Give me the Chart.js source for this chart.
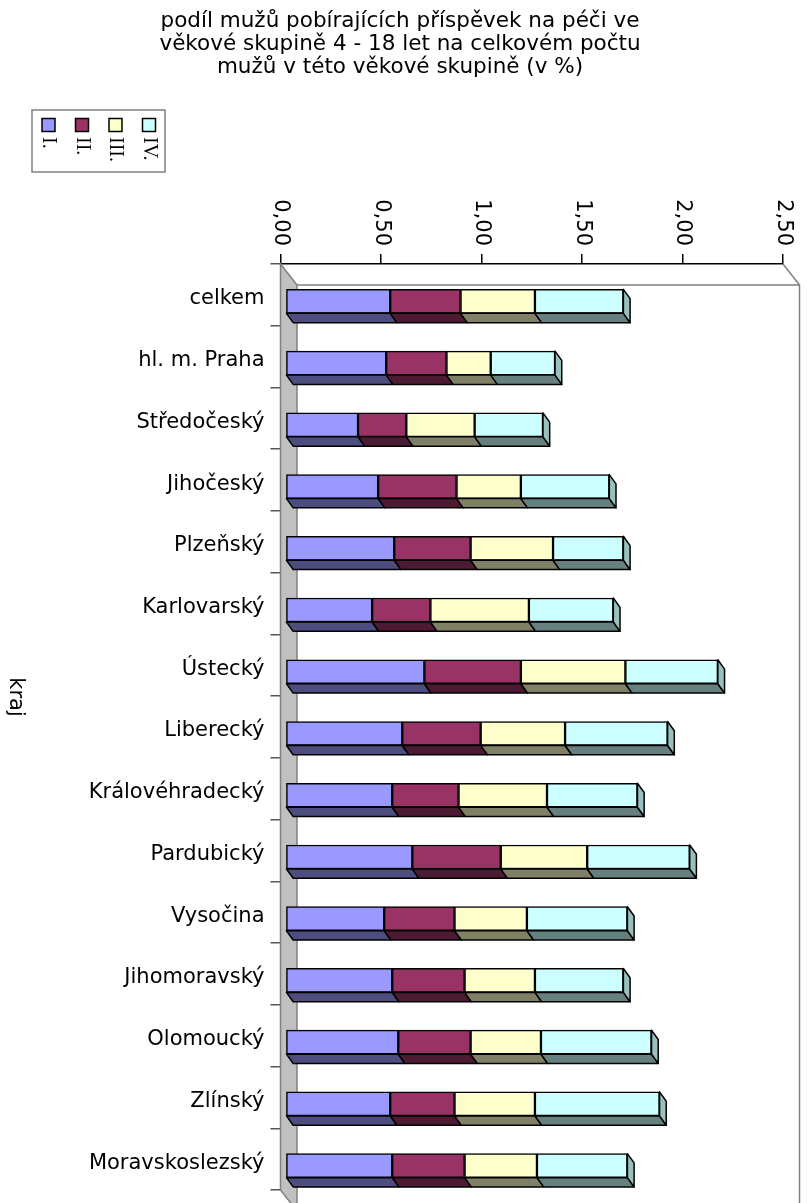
<!DOCTYPE html>
<html lang="cs">
<head>
<meta charset="utf-8">
<title>podíl mužů pobírajících příspěvek na péči</title>
<script src="https://cdn.jsdelivr.net/npm/chart.js@4.4.1/dist/chart.umd.min.js"></script>
<style>
  html, body { margin: 0; padding: 0; background: #fff; overflow: hidden; }
  canvas { display: block; }
</style>
</head>
<body>
<canvas id="chart" width="807" height="1203"></canvas>
<script>
// Kraje a podíly (v %) po stupních I. - IV.
const categories = [
  "celkem", "hl. m. Praha", "Středočeský", "Jihočeský", "Plzeňský",
  "Karlovarský", "Ústecký", "Liberecký", "Královéhradecký", "Pardubický",
  "Vysočina", "Jihomoravský", "Olomoucký", "Zlínský", "Moravskoslezský"
];
const seriesI   = [0.52, 0.50, 0.36, 0.46, 0.54, 0.43, 0.69, 0.58, 0.53, 0.63, 0.49, 0.53, 0.56, 0.52, 0.53];
const seriesII  = [0.35, 0.30, 0.24, 0.39, 0.38, 0.29, 0.48, 0.39, 0.33, 0.44, 0.35, 0.36, 0.36, 0.32, 0.36];
const seriesIII = [0.37, 0.22, 0.34, 0.32, 0.41, 0.49, 0.52, 0.42, 0.44, 0.43, 0.36, 0.35, 0.35, 0.40, 0.36];
const seriesIV  = [0.44, 0.32, 0.34, 0.44, 0.35, 0.42, 0.46, 0.51, 0.45, 0.51, 0.50, 0.44, 0.55, 0.62, 0.45];
const seriesNames = ["I.", "II.", "III.", "IV."];

const titleLines = [
  "podíl mužů pobírajících příspěvek na péči ve",
  "věkové skupině 4 - 18 let na celkovém počtu",
  "mužů v této věkové skupině (v %)"
];
const axisTitle = "kraj";

const frontColors = ["#9999FF", "#993366", "#FFFFCC", "#CCFFFF"];
const floorColors = ["#4D4D80", "#4D1A33", "#808066", "#668080"];
const sideColors  = ["#7373BF", "#73264D", "#BFBF99", "#99BFBF"];

// 3D look: plot depth, bar offset from the front plane and bar depth
const WALL_DX = 16.5, WALL_DY = 21;
const BAR_DX = 5.2, BAR_DY = 6.5;
const FACE_DX = 6.7, FACE_DY = 9.3;

const sansFamily = "'DejaVu Sans', Verdana, sans-serif";

const frame3d = {
  id: "frame3d",
  beforeDatasetsDraw(chart) {
    const { ctx, chartArea: a } = chart;
    ctx.save();
    ctx.lineWidth = 1.5;
    ctx.strokeStyle = "#808080";
    // grey side wall
    ctx.fillStyle = "#C0C0C0";
    ctx.beginPath();
    ctx.moveTo(a.left, a.top);
    ctx.lineTo(a.left + WALL_DX, a.top + WALL_DY);
    ctx.lineTo(a.left + WALL_DX, a.bottom + WALL_DY);
    ctx.lineTo(a.left, a.bottom);
    ctx.closePath();
    ctx.fill();
    ctx.stroke();
    // back plane edges
    ctx.beginPath();
    ctx.moveTo(a.left + WALL_DX, a.top + WALL_DY);
    ctx.lineTo(a.right + WALL_DX, a.top + WALL_DY);
    ctx.lineTo(a.right + WALL_DX, a.bottom + WALL_DY);
    ctx.moveTo(a.right, a.top);
    ctx.lineTo(a.right + WALL_DX, a.top + WALL_DY);
    ctx.stroke();
    ctx.restore();

    // bars sit a little behind the front plane
    ctx.save();
    ctx.translate(BAR_DX, BAR_DY);
  },
  afterDatasetsDraw(chart) {
    const ctx = chart.ctx;
    const last = chart.data.datasets.length - 1;
    ctx.lineWidth = 1.5;
    ctx.strokeStyle = "#000";
    ctx.lineJoin = "round";
    chart.data.datasets.forEach((ds, di) => {
      chart.getDatasetMeta(di).data.forEach(bar => {
        const { x, y, base, height } = bar.getProps(["x", "y", "base", "height"], true);
        const top = y - height / 2, bot = y + height / 2;
        // underside
        ctx.beginPath();
        ctx.moveTo(base, bot);
        ctx.lineTo(x, bot);
        ctx.lineTo(x + FACE_DX, bot + FACE_DY);
        ctx.lineTo(base + FACE_DX, bot + FACE_DY);
        ctx.closePath();
        ctx.fillStyle = floorColors[di];
        ctx.fill();
        ctx.stroke();
        // end cap on the last segment
        if (di === last) {
          ctx.beginPath();
          ctx.moveTo(x, top);
          ctx.lineTo(x + FACE_DX, top + FACE_DY);
          ctx.lineTo(x + FACE_DX, bot + FACE_DY);
          ctx.lineTo(x, bot);
          ctx.closePath();
          ctx.fillStyle = sideColors[di];
          ctx.fill();
          ctx.stroke();
        }
      });
    });
    ctx.restore();
  }
};

const texts = {
  id: "texts",
  afterDraw(chart) {
    const ctx = chart.ctx;
    ctx.save();
    ctx.fillStyle = "#000";

    // title
    ctx.font = "21.5px " + sansFamily;
    ctx.textAlign = "center";
    ctx.textBaseline = "alphabetic";
    titleLines.forEach((line, i) => ctx.fillText(line, 400, 27 + i * 23));

    // value axis labels, turned to read downwards
    const xs = chart.scales.x;
    ctx.font = "21px " + sansFamily;
    xs.ticks.forEach((t, i) => {
      ctx.save();
      ctx.translate(xs.getPixelForTick(i), xs.bottom - 18);
      ctx.rotate(Math.PI / 2);
      ctx.textAlign = "right";
      ctx.textBaseline = "middle";
      ctx.fillText(t.label, 0, 0);
      ctx.restore();
    });

    // category labels, level with the bar fronts
    const ys = chart.scales.y;
    ctx.textAlign = "right";
    ctx.textBaseline = "middle";
    ys.ticks.forEach((t, i) => {
      ctx.fillText(ys.getLabelForValue(t.value), ys.right - 16, ys.getPixelForTick(i) + 4);
    });

    // axis title
    ctx.save();
    ctx.translate(15, 697);
    ctx.rotate(Math.PI / 2);
    ctx.textAlign = "center";
    ctx.textBaseline = "middle";
    ctx.fillText(axisTitle, 0, 0);
    ctx.restore();

    // legend box
    ctx.strokeStyle = "#808080";
    ctx.lineWidth = 1.5;
    ctx.strokeRect(32, 110, 133, 62);
    ctx.font = "20px 'Liberation Serif', 'Times New Roman', serif";
    chart.data.datasets.forEach((ds, i) => {
      const cx = 48.5 + i * 33.5;
      ctx.fillStyle = ds.backgroundColor;
      ctx.fillRect(cx - 6.5, 118.5, 13, 13);
      ctx.strokeStyle = "#000";
      ctx.strokeRect(cx - 6.5, 118.5, 13, 13);
      ctx.save();
      ctx.translate(cx, 137);
      ctx.rotate(Math.PI / 2);
      ctx.fillStyle = "#000";
      ctx.textAlign = "left";
      ctx.textBaseline = "middle";
      ctx.fillText(ds.label, 0, 0);
      ctx.restore();
    });
    ctx.restore();
  }
};

const allSeries = [seriesI, seriesII, seriesIII, seriesIV];

new Chart(document.getElementById("chart"), {
  type: "bar",
  data: {
    labels: categories,
    datasets: allSeries.map((vals, i) => ({
      label: seriesNames[i],
      data: vals,
      backgroundColor: frontColors[i],
      borderColor: "#000",
      borderWidth: 1.5,
      borderSkipped: false,
      barThickness: 24,
      clip: false
    }))
  },
  options: {
    indexAxis: "y",
    responsive: false,
    animation: false,
    devicePixelRatio: 1,
    layout: { padding: { left: 0, top: 0, right: 24, bottom: 13 } },
    plugins: { legend: { display: false }, tooltip: { enabled: false } },
    scales: {
      x: {
        position: "top",
        stacked: true,
        min: 0,
        max: 2.5,
        ticks: {
          stepSize: 0.5,
          display: false,
          callback: v => v.toFixed(2).replace(".", ",")
        },
        grid: { drawOnChartArea: false, drawTicks: true, tickLength: 10, color: "#000", lineWidth: 1.5 },
        border: { display: true, color: "#000", width: 1.5 },
        afterFit: s => { s.height = 264; }
      },
      y: {
        stacked: true,
        ticks: { display: false },
        grid: { drawOnChartArea: false, drawTicks: true, tickLength: 10, offset: true, color: "#555", lineWidth: 1.5 },
        border: { display: true, color: "#555", width: 1.5 },
        afterFit: s => { s.width = 280.5; }
      }
    }
  },
  plugins: [frame3d, texts]
});
</script>
</body>
</html>
